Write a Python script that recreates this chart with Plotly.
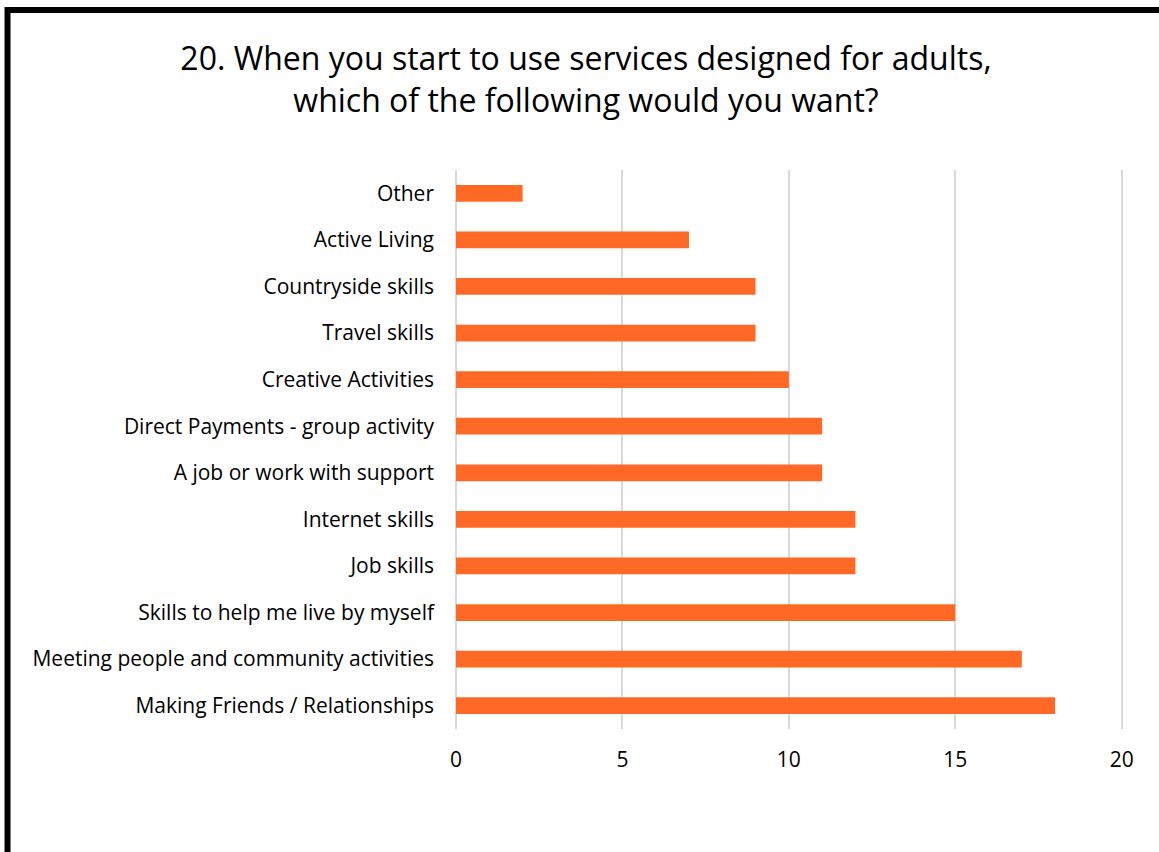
import plotly.graph_objects as go

# Survey responses, listed bottom-to-top as drawn on the category axis
categories = [
    "Making Friends / Relationships",
    "Meeting people and community activities",
    "Skills to help me live by myself",
    "Job skills",
    "Internet skills",
    "A job or work with support",
    "Direct Payments - group activity",
    "Creative Activities",
    "Travel skills",
    "Countryside skills",
    "Active Living",
    "Other",
]
counts = [18, 17, 15, 12, 12, 11, 11, 10, 9, 9, 7, 2]
x_ticks = [0, 5, 10, 15, 20]

W, H = 1159, 852
ML, MR, MT, MB = 456, 34, 170, 123
plot_w = W - ML - MR
plot_h = H - MT - MB

def px_to_paper_x(px):
    return (px - ML) / plot_w

def px_to_paper_y(py):
    return (H - MB - py) / plot_h

fig = go.Figure(
    go.Bar(
        x=counts,
        y=categories,
        orientation="h",
        marker=dict(color="#FF6825", line=dict(width=0)),
        width=0.36,
    )
)

font_family = "'Open Sans', sans-serif"

fig.update_layout(
    width=W,
    height=H,
    margin=dict(l=ML, r=MR, t=MT, b=MB),
    paper_bgcolor="white",
    plot_bgcolor="white",
    showlegend=False,
    font=dict(family=font_family, size=21, color="#000000"),
    title=dict(
        text="20. When you start to use services designed for adults,<br>which of the following would you want?",
        x=586 / W,
        xanchor="center",
        y=1 - 70 / H,
        yanchor="middle",
        font=dict(size=32, color="#000000", family=font_family),
    ),
    xaxis=dict(
        range=[0, 20.1],
        tickvals=x_ticks,
        showgrid=True,
        gridcolor="#D9D9D9",
        gridwidth=1.5,
        zeroline=True,
        zerolinecolor="#D9D9D9",
        zerolinewidth=1.5,
        showline=False,
        ticks="",
        ticklabelstandoff=16,
        tickfont=dict(size=21),
    ),
    yaxis=dict(
        categoryorder="array",
        categoryarray=categories,
        showgrid=False,
        showline=False,
        ticks="",
        ticklabelstandoff=21,
        tickfont=dict(size=21),
    ),
    bargap=0.64,
)

# Thick frame around the chart area (right and bottom sides fall outside the page)
fig.add_shape(
    type="rect",
    xref="paper",
    yref="paper",
    x0=px_to_paper_x(7.5),
    x1=px_to_paper_x(W + 20),
    y0=px_to_paper_y(H + 20),
    y1=px_to_paper_y(10),
    line=dict(color="#000000", width=6),
    fillcolor="rgba(0,0,0,0)",
    layer="above",
)

fig.write_html("out.html")
